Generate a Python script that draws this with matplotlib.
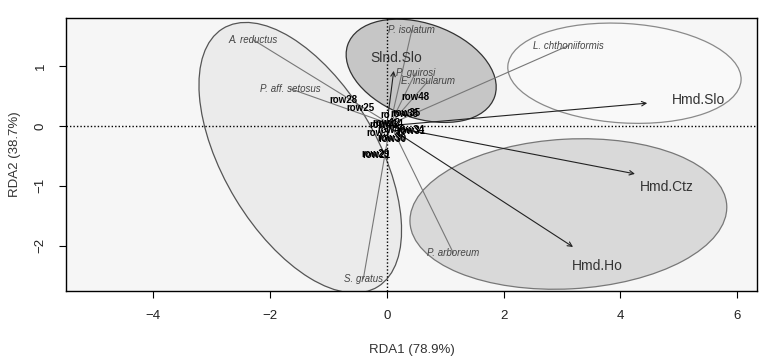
import numpy as np
import matplotlib
matplotlib.use("Agg")
import matplotlib.pyplot as plt
from matplotlib.patches import Ellipse

plt.rcParams['font.family'] = ['Liberation Sans', 'DejaVu Sans']

# site scores (row labels)
site_names = ["row28", "row25", "row48", "ro", "row38", "row35", "row12", "row14",
              "row46", "row40", "row34", "row31", "row3", "row36", "row30", "row29", "row21"]
site_x = [-0.74, -0.45, 0.49, -0.03, 0.30, 0.33, 0.00, 0.05, -0.05, 0.08,
          0.40, 0.42, -0.15, 0.08, 0.10, -0.20, -0.17]
site_y = [0.43, 0.30, 0.48, 0.18, 0.20, 0.21, 0.05, 0.03, 0.02, -0.06,
          -0.07, -0.09, -0.12, -0.20, -0.22, -0.47, -0.48]

# species scores
sp_names = ["P. isolatum", "P. guirosi", "E. insularum", "A. reductus", "P. aff. setosus",
            "L. chthoniiformis", "P. arboreum", "S. gratus"]
sp_x = [0.43, 0.49, 0.71, -2.29, -1.65, 3.11, 1.14, -0.40]
sp_y = [1.60, 0.88, 0.75, 1.44, 0.62, 1.34, -2.12, -2.55]
sp_origin = (0.06, 0.03)

# environmental arrows
env_names = ["Slnd.Slo", "Hmd.Slo", "Hmd.Ctz", "Hmd.Ho"]
env_x = [0.12, 4.46, 4.25, 3.19]
env_y = [0.92, 0.38, -0.80, -2.02]
env_lab_x = [0.16, 5.33, 4.80, 3.60]
env_lab_y = [1.14, 0.43, -1.02, -2.34]

# group ellipses: centre, full width, full height, angle
ell_cx = [-1.48, 4.07, 3.11, 0.59]
ell_cy = [-0.53, 0.88, -1.47, 0.92]
ell_w = [5.06, 4.00, 5.43, 2.66]
ell_h = [2.61, 1.66, 2.50, 1.58]
ell_ang = [121.8, -3.4, 3.0, -18.8]
ell_fill = ["#ebebeb", "#f9f9f9", "#d9d9d9", "#c6c6c6"]
ell_edge = ["#555555", "#8a8a8a", "#777777", "#333333"]

fig = plt.figure(figsize=(7.66, 3.62), dpi=100)
ax = fig.add_axes([0.0862, 0.197, 0.9021, 0.753])
ax.set_facecolor("#f6f6f6")
ax.set_xlim(-5.49, 6.34)
ax.set_ylim(-2.75, 1.80)

for cx, cy, w, h, a, fc, ec in zip(ell_cx, ell_cy, ell_w, ell_h, ell_ang, ell_fill, ell_edge):
    ax.add_patch(Ellipse((cx, cy), w, h, angle=a, facecolor=fc, edgecolor=ec, lw=0.9, zorder=1))

ax.axhline(0, color="black", ls=(0, (1, 1.5)), lw=1, zorder=2)
ax.axvline(0, color="black", ls=(0, (1, 1.5)), lw=1, zorder=2)

# species lines and labels
for n, x, y in zip(sp_names, sp_x, sp_y):
    ax.plot([sp_origin[0], x], [sp_origin[1], y], color="#777777", lw=0.8, zorder=3)
    ax.text(x, y, n, fontsize=7, style="italic", color="#444444",
            ha="center", va="center", zorder=5)

# env arrows
for n, x, y, lx, ly in zip(env_names, env_x, env_y, env_lab_x, env_lab_y):
    ax.annotate("", xy=(x, y), xytext=(0, 0),
                arrowprops=dict(arrowstyle="->", color="#222222", lw=0.8,
                                shrinkA=0, shrinkB=0, mutation_scale=8), zorder=4)
    ax.text(lx, ly, n, fontsize=10, color="#333333", ha="center", va="center", zorder=5)

# site labels
for n, x, y in zip(site_names, site_x, site_y):
    ax.text(x, y, n, fontsize=7, fontweight="bold", color="black",
            ha="center", va="center", zorder=6)

ax.set_xticks([-4, -2, 0, 2, 4, 6])
ax.set_yticks([-2, -1, 0, 1])
ax.tick_params(direction="out", length=5, width=0.8, labelsize=9.5,
               labelcolor="#222222", pad=9)
for lab in ax.get_yticklabels():
    lab.set_rotation(90)
    lab.set_va("center")
for s in ax.spines.values():
    s.set_linewidth(1)
    s.set_color("black")

ax.set_xlabel("RDA1 (78.9%)", fontsize=9.5, color="#333333", labelpad=16)
ax.set_ylabel("RDA2 (38.7%)", fontsize=9.5, color="#333333", labelpad=10)

fig.savefig("out.png", dpi=100)
